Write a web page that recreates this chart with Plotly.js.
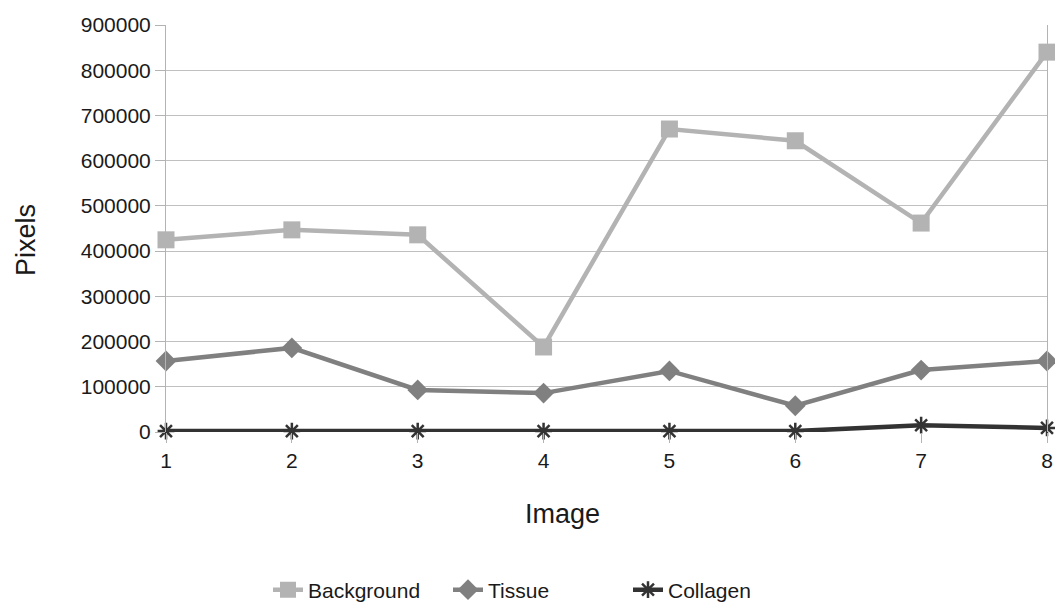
<!DOCTYPE html>
<html>
<head>
<meta charset="utf-8">
<script src="https://cdn.plot.ly/plotly-3.0.1.min.js"></script>
<style>html,body{margin:0;padding:0;background:#fff;}#chart{width:1055px;height:603px;}</style>
</head>
<body>
<div id="chart"></div>
<script>
const images = [1, 2, 3, 4, 5, 6, 7, 8];
const background = [425000, 447000, 436000, 188000, 670000, 644000, 462000, 840000];
const tissue = [157000, 186000, 93000, 86000, 135000, 58000, 137000, 157000];
const collagen = [2000, 2000, 2000, 2000, 2000, 2000, 15000, 9000];
const yTicks = [0, 100000, 200000, 300000, 400000, 500000, 600000, 700000, 800000, 900000];

const fam = 'Liberation Sans, Arial, sans-serif';
const txt = '#1a1a1a';

const traces = [
  {x: images, y: background, name: 'Background', type: 'scatter', mode: 'lines+markers',
   line: {color: '#b3b3b3', width: 4.5}, marker: {symbol: 'square', size: 17, color: '#b3b3b3'}, cliponaxis: false},
  {x: images, y: tissue, name: 'Tissue', type: 'scatter', mode: 'lines+markers',
   line: {color: '#808080', width: 4.5}, marker: {symbol: 'diamond', size: 16, color: '#808080'}, cliponaxis: false},
  {x: images, y: collagen, name: 'Collagen', type: 'scatter', mode: 'lines+markers',
   line: {color: '#333333', width: 4.5}, marker: {symbol: 'asterisk-open', size: 14, color: '#333333', line: {color: '#333333', width: 2.5}}, cliponaxis: false}
];

const layout = {
  width: 1055, height: 603,
  margin: {l: 166, r: 8, t: 25, b: 171, autoexpand: false},
  paper_bgcolor: '#fff', plot_bgcolor: '#fff',
  font: {family: fam, color: txt},
  showlegend: true,
  legend: {orientation: 'h', x: (538 - 166) / 881, xanchor: 'center', y: (432 - 590) / 407, yanchor: 'middle',
           entrywidth: 135, entrywidthmode: 'pixels',
           font: {family: fam, size: 21, color: txt}},
  xaxis: {range: [1, 8], tickvals: images, ticktext: images.map(String), showgrid: false, zeroline: false,
          showline: false, ticks: 'outside', ticklen: 10, tickcolor: '#b3b3b3',
          tickfont: {family: fam, size: 21, color: txt}},
  yaxis: {range: [0, 900000], tickvals: yTicks, ticktext: yTicks.map(String), showgrid: true, gridcolor: '#c0c0c0', gridwidth: 1,
          zeroline: false, showline: true, mirror: true, linecolor: '#b3b3b3', linewidth: 1,
          ticks: 'outside', ticklen: 10, tickcolor: '#b3b3b3',
          tickfont: {family: fam, size: 21, color: txt}},
  annotations: [
    {text: 'Image', xref: 'paper', yref: 'paper', x: (562 - 166) / 881, y: (432 - 514) / 407, xanchor: 'center', yanchor: 'middle',
     showarrow: false, font: {family: fam, size: 27, color: txt}},
    {text: 'Pixels', xref: 'paper', yref: 'paper', x: (26 - 166) / 881, y: (432 - 240) / 407, xanchor: 'center', yanchor: 'middle',
     textangle: -90, showarrow: false, font: {family: fam, size: 27, color: txt}}
  ]
};

Plotly.newPlot('chart', traces, layout, {staticPlot: true});
</script>
</body>
</html>
